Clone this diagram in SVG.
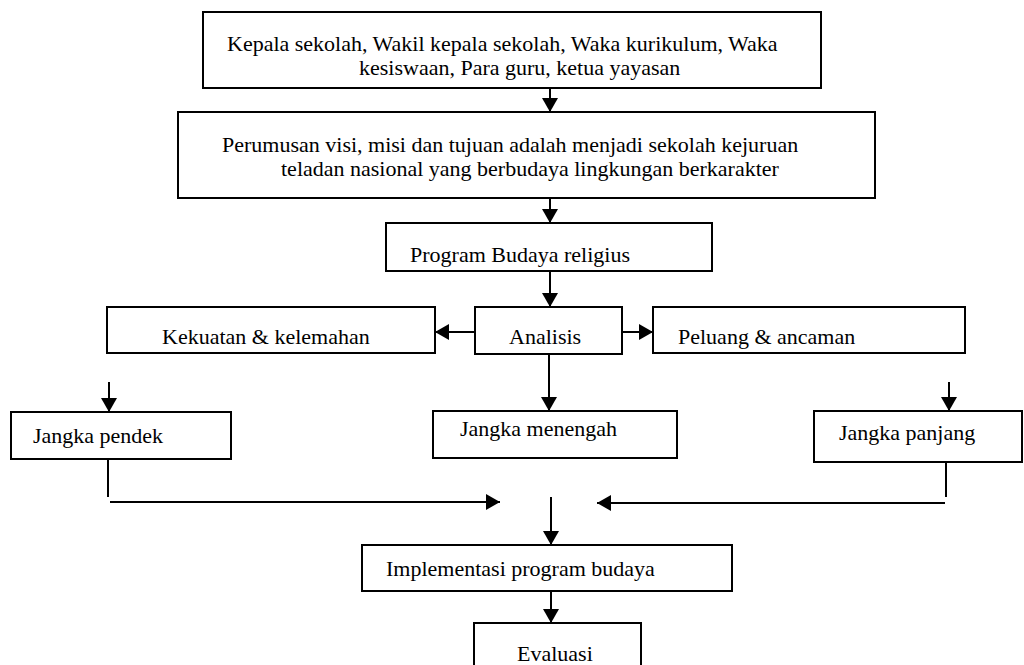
<svg xmlns="http://www.w3.org/2000/svg" width="1024" height="665" viewBox="0 0 1024 665">
<style>
.box{fill:#fff;stroke:#000;stroke-width:2}
.t{font-family:"Liberation Serif","Times New Roman",serif;font-size:22px;fill:#000}
.c{stroke:#000;stroke-width:2;fill:none}
.a{marker-end:url(#ah)}
</style>
<defs>
<marker id="ah" viewBox="0 0 14 16" refX="14" refY="8" markerWidth="14" markerHeight="16" markerUnits="userSpaceOnUse" orient="auto">
<path d="M0,0 L14,8 L0,16 z" fill="#000"/>
</marker>
</defs>
<rect width="1024" height="665" fill="#fff"/>
<g id="n1"><rect class="box" x="203" y="12" width="618" height="76"/>
<text class="t" x="227" y="51">Kepala sekolah, Wakil kepala sekolah, Waka kurikulum, Waka</text>
<text class="t" x="359" y="75">kesiswaan, Para guru, ketua yayasan</text></g>
<g id="n2"><rect class="box" x="178" y="112" width="697" height="86"/>
<text class="t" x="222" y="152">Perumusan visi, misi dan tujuan adalah menjadi sekolah kejuruan</text>
<text class="t" x="281" y="176">teladan nasional yang berbudaya lingkungan berkarakter</text></g>
<g id="n3"><rect class="box" x="386" y="223" width="326" height="48"/>
<text class="t" x="410" y="262">Program Budaya religius</text></g>
<g id="n4"><rect class="box" x="107" y="307" width="328" height="46"/>
<text class="t" x="162" y="344">Kekuatan &amp; kelemahan</text></g>
<g id="n5"><rect class="box" x="475" y="307" width="147" height="47"/>
<text class="t" x="509" y="344">Analisis</text></g>
<g id="n6"><rect class="box" x="653" y="307" width="312" height="46"/>
<text class="t" x="678" y="344">Peluang &amp; ancaman</text></g>
<g id="n7"><rect class="box" x="11" y="412" width="220" height="47"/>
<text class="t" x="33" y="443">Jangka pendek</text></g>
<g id="n8"><rect class="box" x="433" y="411" width="244" height="47"/>
<text class="t" x="460" y="436">Jangka menengah</text></g>
<g id="n9"><rect class="box" x="814" y="411" width="208" height="51"/>
<text class="t" x="839" y="440">Jangka panjang</text></g>
<g id="n10"><rect class="box" x="362" y="545" width="370" height="46"/>
<text class="t" x="386" y="576">Implementasi program budaya</text></g>
<g id="n11"><rect class="box" x="474" y="623" width="167" height="60"/>
<text class="t" x="517" y="661">Evaluasi</text></g>
<g id="connectors">
<line class="c a" x1="550" y1="88" x2="550" y2="112"/>
<line class="c a" x1="550" y1="198" x2="550" y2="223"/>
<line class="c a" x1="550" y1="271" x2="550" y2="307"/>
<line class="c a" x1="475" y1="332" x2="435" y2="332"/>
<line class="c a" x1="622" y1="332" x2="653" y2="332"/>
<line class="c a" x1="549" y1="354" x2="549" y2="411"/>
<line class="c a" x1="109" y1="382" x2="109" y2="412"/>
<line class="c a" x1="949" y1="382" x2="949" y2="411"/>
<line class="c" x1="108" y1="459" x2="108" y2="497"/>
<line class="c a" x1="110" y1="502" x2="500" y2="502"/>
<line class="c" x1="946" y1="462" x2="946" y2="497"/>
<line class="c a" x1="945" y1="503" x2="597" y2="503"/>
<line class="c a" x1="551" y1="497" x2="551" y2="545"/>
<line class="c a" x1="551" y1="591" x2="551" y2="623"/>
</g>
</svg>
